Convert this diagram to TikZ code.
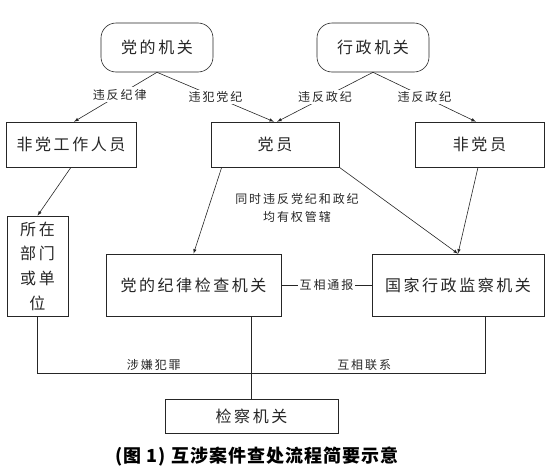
\documentclass[tikz,border=0pt]{standalone}
\usepackage{fontspec}
\setmainfont{Noto Sans CJK SC}
\newfontfamily\cjkbox[LetterSpace=16]{Noto Sans CJK SC}
\newfontfamily\cjkcap[LetterSpace=6]{Noto Sans CJK SC}

\tikzset{
    orgbox/.style={draw, rounded corners=15pt, minimum width=112pt, minimum height=49pt,
        inner sep=0pt, font=\cjkbox\fontsize{16}{20}\selectfont},
    personbox/.style={draw, minimum height=45pt, inner sep=0pt,
        font=\cjkbox\fontsize{16}{20}\selectfont},
    organbox/.style={draw, inner sep=0pt, font=\cjkbox\fontsize{16}{20}\selectfont},
    edgelabel/.style={fill=white, inner sep=1.5pt, font=\cjkbox\fontsize{12}{15}\selectfont}
}

\begin{document}
\begin{tikzpicture}[x=1pt, y=-1pt, >=latex, black!85, line width=0.6pt]

        \useasboundingbox (0,0) rectangle (558,474);

        % ==== ORGANS ON TOP ====
        \node[orgbox] (partyorg) at (157,47.5) {党的机关};
        \node[orgbox] (admorg) at (373,47.5) {行政机关};

        % ==== PERSONS ====
        \node[personbox, minimum width=130pt] (nonstaff) at (71,144.5) {非党工作人员};
        \node[personbox, minimum width=128pt] (member) at (275,144.5) {党员};
        \node[personbox, minimum width=129pt] (nonmember) at (479.5,144.5) {非党员};

        % ==== HANDLING ORGANS ====
        \node[organbox, minimum width=61pt, minimum height=100pt, align=center,
            font=\cjkbox\fontsize{16}{24.7}\selectfont] (unit) at (37.5,266)
            {所在\\部门\\或单\\位};
        \node[organbox, minimum width=175pt, minimum height=62pt] (discipline) at (193.5,285) {党的纪律检查机关};
        \node[organbox, minimum width=172pt, minimum height=62pt] (supervision) at (458,285) {国家行政监察机关};
        \node[organbox, minimum width=173pt, minimum height=34pt] (procur) at (251.5,416) {检察机关};

        % ==== VIOLATIONS ====
        \draw[->] (partyorg.south) -- node[edgelabel, pos=0.45] {违反纪律} ([xshift=3pt]nonstaff.north);
        \draw[->] (partyorg.south) -- node[edgelabel] {违犯党纪} ([xshift=-1pt]member.north);
        \draw[->] (admorg.south) -- node[edgelabel] {违反政纪} ([xshift=2pt]member.north);
        \draw[->] (admorg.south) -- node[edgelabel] {违反政纪} ([xshift=-3.5pt]nonmember.north);

        % ==== JURISDICTION ====
        \draw[->] (nonstaff.south) -- (unit.north);
        \draw[->] ([xshift=11pt]member.south west) -- (discipline.north);
        \draw[->] (member.south east) -- (supervision.north);
        \draw[->] ([xshift=-1.5pt]nonmember.south) -- (supervision.north);
        \node[font=\cjkbox\fontsize{12}{18}\selectfont, align=center] (both) at (297,208)
            {同时违反党纪和政纪\\均有权管辖};

        \draw (discipline.east) -- node[edgelabel] {互相通报} (supervision.west);

        % ==== CRIME ====
        \coordinate (bus) at (0,373);
        \coordinate (suptap) at ([xshift=27pt]supervision.south);
        \draw (unit.south) -- (unit.south |- bus)
            -- node[above, pos=0.26, inner sep=2pt, font=\cjkbox\fontsize{12}{15}\selectfont] {涉嫌犯罪}
               node[above, pos=0.73, inner sep=2pt, font=\cjkbox\fontsize{12}{15}\selectfont] {互相联系}
            (suptap |- bus) -- (suptap);
        \draw (procur.north |- discipline.south) -- (procur.north);

        % ==== CAPTION ====
        \node[font=\cjkcap\bfseries\fontsize{18}{22}\selectfont, black] (caption) at (257,457)
            {(图 1) 互涉案件查处流程简要示意};

    \end{tikzpicture}
\end{document}
